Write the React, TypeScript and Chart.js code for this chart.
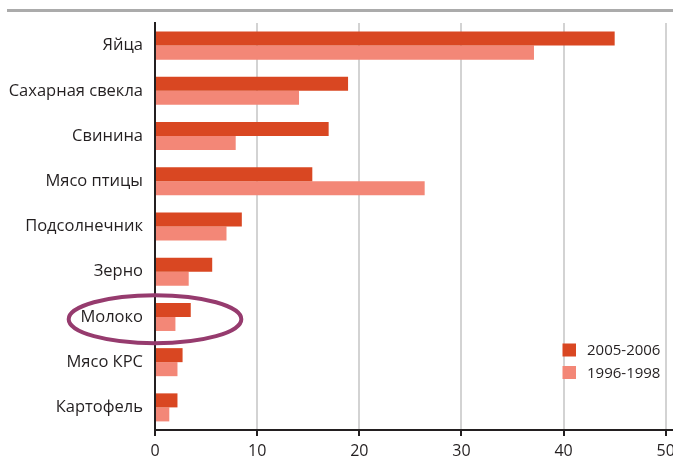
import React, { useEffect, useRef } from "react";
import { Chart, registerables } from "chart.js";

Chart.register(...registerables);

const categories = [
  "Яйца",
  "Сахарная свекла",
  "Свинина",
  "Мясо птицы",
  "Подсолнечник",
  "Зерно",
  "Молоко",
  "Мясо КРС",
  "Картофель",
];
const series2005 = [45.0, 18.9, 17.0, 15.4, 8.5, 5.6, 3.5, 2.7, 2.2];
const series1996 = [37.1, 14.1, 7.9, 26.4, 7.0, 3.3, 2.0, 2.2, 1.4];
const seriesLabels = ["2005-2006", "1996-1998"];
const xTicks = [0, 10, 20, 30, 40, 50];
const highlighted = "Молоко";

const DARK = "#D94722";
const LIGHT = "#F38777";
const TEXT = "#231F20";
const FONT = "'Open Sans', 'Noto Sans', sans-serif";

const decorPlugin = {
  id: "decor",
  beforeDraw(chart: any) {
    const { ctx, chartArea } = chart;
    ctx.save();
    ctx.strokeStyle = "#ababab";
    ctx.lineWidth = 3;
    ctx.beginPath();
    ctx.moveTo(7, chartArea.top - 12.5);
    ctx.lineTo(chart.width, chartArea.top - 12.5);
    ctx.stroke();
    ctx.restore();
  },
  afterDraw(chart: any) {
    const { ctx, chartArea, scales } = chart;
    const x = scales.x;
    const y = scales.y;
    // highlight ellipse around one category
    const idx = categories.indexOf(highlighted);
    const step = Math.abs(y.getPixelForValue(1) - y.getPixelForValue(0));
    const cx = x.getPixelForValue(0);
    const cy = y.getPixelForValue(idx) + step * 0.05;
    const rx = x.getPixelForValue(8.45) - cx;
    const ry = step * 0.53;
    ctx.save();
    ctx.strokeStyle = "#963B6E";
    ctx.lineWidth = 4;
    ctx.beginPath();
    ctx.ellipse(cx, cy, rx, ry, 0, 0, Math.PI * 2);
    ctx.stroke();
    // legend inside plot area
    ctx.font = `15px ${FONT}`;
    ctx.textBaseline = "middle";
    ctx.textAlign = "left";
    chart.data.datasets.forEach((ds: any, i: number) => {
      const yy = chartArea.bottom - 80 + i * 22.5;
      const xx = chartArea.right - 110.5;
      ctx.fillStyle = ds.backgroundColor;
      ctx.fillRect(xx, yy - 6.5, 13.5, 13);
      ctx.fillStyle = TEXT;
      ctx.fillText(ds.label, xx + 24.5, yy + 1);
    });
    ctx.restore();
  },
};

export default function App() {
  const ref = useRef<HTMLCanvasElement>(null);
  useEffect(() => {
    document.body.style.margin = "0";
    const chart = new Chart(ref.current!, {
      type: "bar",
      data: {
        labels: categories,
        datasets: [
          { label: seriesLabels[0], data: series2005, backgroundColor: DARK },
          { label: seriesLabels[1], data: series1996, backgroundColor: LIGHT },
        ],
      },
      options: {
        indexAxis: "y",
        animation: false,
        responsive: false,
        maintainAspectRatio: false,
        layout: { padding: { top: 23, right: 0, bottom: 0, left: 0 } },
        datasets: {
          bar: { categoryPercentage: 0.62, barPercentage: 1, borderWidth: 0 },
        },
        plugins: {
          legend: { display: false },
          tooltip: { enabled: false },
        },
        scales: {
          x: {
            min: 0,
            max: 50.71,
            afterBuildTicks(scale: any) {
              scale.ticks = xTicks.map((v) => ({ value: v }));
            },
            afterFit(scale: any) {
              scale.height = 29;
              scale.paddingRight = 0;
              scale.paddingLeft = 0;
            },
            grid: {
              color: (c: any) => (c.tick && c.tick.value === 0 ? "rgba(0,0,0,0)" : "#d3d3d3"),
              lineWidth: 2,
              drawTicks: true,
              tickLength: 6,
              tickColor: "#231F20",
              tickWidth: 2,
            },
            border: { display: true, color: "#231F20", width: 2 },
            ticks: {
              font: { size: 16, family: FONT },
              color: TEXT,
              padding: 6,
              maxRotation: 0,
            },
          },
          y: {
            afterFit(scale: any) {
              scale.width = 155;
            },
            grid: { display: false, drawTicks: false },
            border: { display: true, color: "#231F20", width: 2 },
            ticks: {
              font: { size: 16.5, family: FONT },
              color: TEXT,
              padding: 12,
            },
          },
        },
      },
      plugins: [decorPlugin],
    });
    return () => chart.destroy();
  }, []);
  return (
    <div style={{ position: "absolute", left: 0, top: 0, width: 673, height: 459 }}>
      <canvas ref={ref} width={673} height={459} />
    </div>
  );
}
